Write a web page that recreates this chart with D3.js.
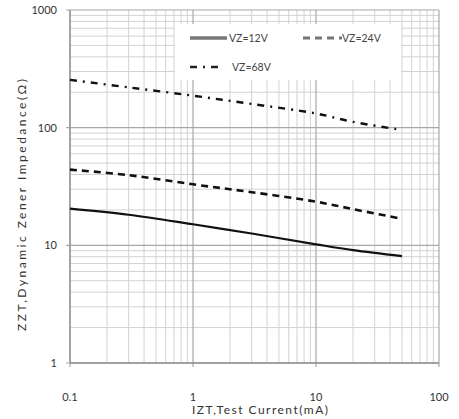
<!DOCTYPE html>
<html><head><meta charset="utf-8">
<script src="https://cdn.jsdelivr.net/npm/d3@7"></script>
<style>body{margin:0;background:#fff}svg{display:block}text{font-family:Lato,"Open Sans",sans-serif}</style>
</head><body><svg id="c" width="459" height="419"></svg>
<script>
const currents = [0.1, 0.3, 1, 3, 10, 20, 50];
const vz12 = [20.5, 18.2, 15.1, 12.6, 10.2, 9.1, 8.1];
const vz24 = [44, 39.5, 33, 28.3, 23.5, 20.3, 16.8];
const vz68 = [255, 220, 187, 159, 132, 112, 95.6];
const seriesNames = ["VZ=12V", "VZ=24V", "VZ=68V"];
const xTicks = [0.1, 1, 10, 100];
const yTicks = [1, 10, 100, 1000];
const xTitle = "IZT,Test Current(mA)";
const yTitle = "ZZT,Dynamic Zener Impedance(Ω)";

const svg = d3.select("#c");
const L = 70, R = 439, T = 10, B = 363;
const x = d3.scaleLog().domain([0.1, 100]).range([L, R]);
const y = d3.scaleLog().domain([1, 1000]).range([B, T]);

const minorX = [], minorY = [];
for (let d = 0.1; d < 99; d *= 10) for (let k = 2; k <= 9; k++) minorX.push(d * k);
for (let d = 1; d < 999; d *= 10) for (let k = 2; k <= 9; k++) minorY.push(d * k);

const g = svg.append("g");
g.selectAll(".mx").data(minorX).join("line")
  .attr("x1", d => x(d)).attr("x2", d => x(d)).attr("y1", T).attr("y2", B)
  .attr("stroke", "#d2d2d2").attr("stroke-width", 1);
g.selectAll(".my").data(minorY).join("line")
  .attr("y1", d => y(d)).attr("y2", d => y(d)).attr("x1", L).attr("x2", R)
  .attr("stroke", "#d2d2d2").attr("stroke-width", 1);
g.selectAll(".Mx").data(xTicks).join("line")
  .attr("x1", d => x(d)).attr("x2", d => x(d)).attr("y1", T).attr("y2", B + 4)
  .attr("stroke", "#a8a8a8").attr("stroke-width", 1.2);
g.selectAll(".My").data(yTicks).join("line")
  .attr("y1", d => y(d)).attr("y2", d => y(d)).attr("x1", L - 4).attr("x2", R)
  .attr("stroke", "#a8a8a8").attr("stroke-width", 1.2);
g.append("line").attr("x1", L).attr("x2", R).attr("y1", B).attr("y2", B).attr("stroke", "#909090").attr("stroke-width", 1.3);
g.append("line").attr("x1", L).attr("x2", L).attr("y1", T).attr("y2", B).attr("stroke", "#909090").attr("stroke-width", 1.3);

svg.append("rect").attr("x", 175).attr("y", 24).attr("width", 226).attr("height", 56).attr("fill", "#fff");

svg.selectAll(".xl").data(xTicks).join("text")
  .attr("x", d => x(d)).attr("y", 401).attr("text-anchor", "middle")
  .attr("font-size", 11).attr("fill", "#333").text(d => d);
svg.selectAll(".yl").data(yTicks).join("text")
  .attr("x", 57).attr("y", d => y(d) + 4).attr("text-anchor", "end")
  .attr("font-size", 11).attr("fill", "#333").text(d => d);
svg.append("text").attr("x", 260).attr("y", 414).attr("text-anchor", "middle")
  .attr("font-size", 12).attr("fill", "#333").attr("textLength", 136).attr("lengthAdjust", "spacing").text(xTitle);
svg.append("text").attr("transform", "translate(26,205) rotate(-90)").attr("text-anchor", "middle")
  .attr("font-size", 12).attr("fill", "#333").attr("textLength", 252).attr("lengthAdjust", "spacing").text(yTitle);

const styles = [
  {vals: vz12, dash: null, w: 2.2},
  {vals: vz24, dash: "7,5", w: 2.6},
  {vals: vz68, dash: "7,6,2,6", w: 2.4}
];
const line = d3.line().x(d => x(d[0])).y(d => y(d[1])).curve(d3.curveCatmullRom.alpha(0.5));
styles.forEach(s => {
  svg.append("path").datum(currents.map((c, i) => [c, s.vals[i]]))
    .attr("d", line).attr("fill", "none").attr("stroke", "#111")
    .attr("stroke-width", s.w).attr("stroke-dasharray", s.dash);
});

const leg = [
  {x: 190, y: 38, len: 37, tx: 229, dash: null, w: 3.5, c: "#777"},
  {x: 303, y: 38, len: 39, tx: 342, dash: "7,5", w: 3, c: "#777"},
  {x: 190, y: 67, len: 32, tx: 232, dash: "7,6,2,6", w: 2.5, c: "#222"}
];
leg.forEach((l, i) => {
  svg.append("line").attr("x1", l.x).attr("x2", l.x + l.len).attr("y1", l.y).attr("y2", l.y)
    .attr("stroke", l.c).attr("stroke-width", l.w).attr("stroke-dasharray", l.dash);
  svg.append("text").attr("x", l.tx).attr("y", l.y + 4).attr("font-size", 10.5).attr("fill", "#444").text(seriesNames[i]);
});
</script></body></html>
